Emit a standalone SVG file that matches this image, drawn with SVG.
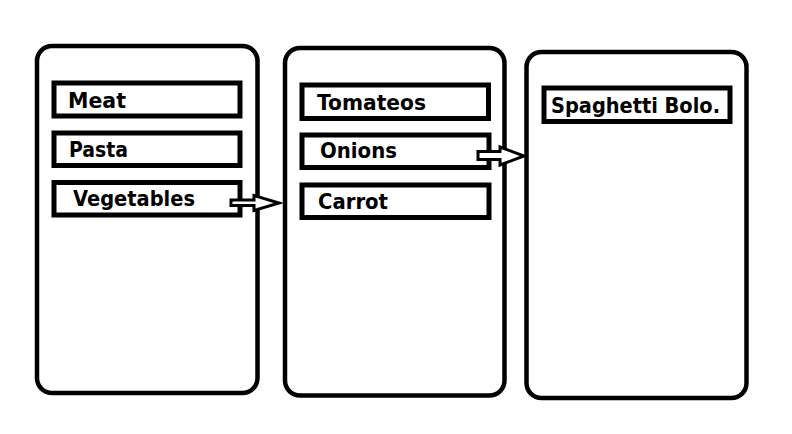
<svg xmlns="http://www.w3.org/2000/svg" width="792" height="434" viewBox="0 0 792 434">
<style>
.panel{fill:#fff;stroke:#000;stroke-width:4.5}
.box{fill:#fff;stroke:#000;stroke-width:5}
.lbl{font-family:"DejaVu Sans","Liberation Sans",sans-serif;font-weight:bold;font-size:22px;fill:#000}
.arr{fill:#fff;stroke:#000;stroke-width:3;stroke-linejoin:miter}
</style>
<rect width="792" height="434" fill="#fff"/>
<g id="panel-ingredients">
<rect class="panel" x="37" y="46" width="220.5" height="347" rx="15"/>
</g>
<g id="panel-vegetables">
<rect class="panel" x="285" y="48" width="219.5" height="347.5" rx="15"/>
</g>
<g id="panel-dish">
<rect class="panel" x="526.5" y="52" width="220" height="346" rx="15"/>
</g>
<g id="node-meat">
<rect class="box" x="54" y="83" width="186" height="33"/>
<text class="lbl" x="68" y="108" textLength="58" lengthAdjust="spacingAndGlyphs">Meat</text>
</g>
<g id="node-pasta">
<rect class="box" x="54" y="133" width="186" height="32.5"/>
<text class="lbl" x="69" y="157" textLength="59" lengthAdjust="spacingAndGlyphs">Pasta</text>
</g>
<g id="node-vegetables">
<rect class="box" x="54" y="182.5" width="186" height="32.5"/>
<text class="lbl" x="73" y="206" textLength="122" lengthAdjust="spacingAndGlyphs">Vegetables</text>
</g>
<g id="node-tomateos">
<rect class="box" x="302" y="85" width="186.5" height="33.5"/>
<text class="lbl" x="317" y="110" textLength="109" lengthAdjust="spacingAndGlyphs">Tomateos</text>
</g>
<g id="node-onions">
<rect class="box" x="302" y="135" width="187" height="32.5"/>
<text class="lbl" x="320" y="158" textLength="77" lengthAdjust="spacingAndGlyphs">Onions</text>
</g>
<g id="node-carrot">
<rect class="box" x="302" y="185" width="187" height="32.5"/>
<text class="lbl" x="318" y="209" textLength="70" lengthAdjust="spacingAndGlyphs">Carrot</text>
</g>
<g id="node-spaghetti">
<rect class="box" x="544" y="88" width="186" height="33.5"/>
<text class="lbl" x="551" y="113" textLength="169" lengthAdjust="spacingAndGlyphs">Spaghetti Bolo.</text>
</g>
<g id="connectors">
<path class="arr" d="M231,200 H254 V195.5 L279,203 L254,210.5 V205.5 H231 Z"/>
<path class="arr" d="M478,151.5 H500 V147 L524,156 L500,165 V159.5 H478 Z"/>
</g>
</svg>
